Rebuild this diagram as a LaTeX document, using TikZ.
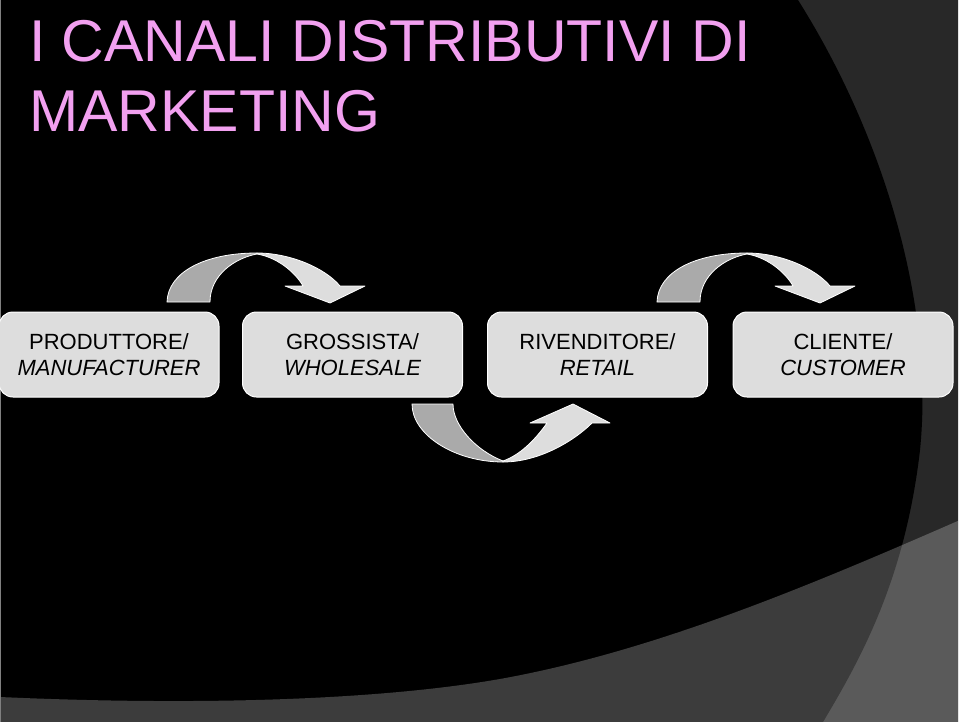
\documentclass[tikz,border=0pt]{standalone}
\usepackage{fontspec}
\setmainfont{Liberation Sans}
\definecolor{titlepink}{RGB}{242,160,240}
\definecolor{darkbg}{RGB}{40,40,40}
\definecolor{boxfill}{RGB}{221,221,221}
\definecolor{arrowdark}{RGB}{170,170,170}
\definecolor{arrowlight}{RGB}{221,221,221}
\newcommand\TopArrow[1]{%
  \begin{scope}[xshift=#1pt]
    \filldraw[arrowpart, fill=arrowdark]
      (167,302) .. controls (168,272) and (205,253) .. (257,253)
      -- (257,254) .. controls (235,258) and (210,275) .. (210,302) -- cycle;
    \filldraw[arrowpart, fill=arrowlight]
      (257,253) .. controls (290,253) and (325,268) .. (340,286)
      -- (365,286) -- (330,303) -- (285,286) -- (303,286)
      .. controls (297,275) and (280,258) .. (257,254) -- cycle;
  \end{scope}}
\begin{document}
\begin{tikzpicture}[x=1pt,y=-1pt,
  arrowpart/.style={draw=white, line width=0.8pt, line join=round},
  stagebox/.style={draw=white, line width=1pt, fill=boxfill, rounded corners=14pt,
    minimum width=220pt, minimum height=85pt, align=center, inner sep=0pt,
    text=black, font=\fontsize{22}{26}\selectfont},
  titletext/.style={anchor=base west, inner sep=0pt, text=titlepink,
    font=\fontsize{59}{70}\selectfont}]
\useasboundingbox (0,0) rectangle (960,722);
% background
\fill[white] (0,0) rectangle (960,722);
\begin{scope}
  \clip (1,1) rectangle (958,722);
  \fill[darkbg] (0,0) rectangle (960,722);
  \fill[black] (0,0) -- (798,0) .. controls (880,130) and (935,300) .. (920,450)
    .. controls (905,580) and (860,660) .. (823,722) -- (0,722) -- cycle;
  \fill[white, opacity=0.235] (0,697) .. controls (200,706) and (380,700) .. (500,679)
    .. controls (650,652) and (800,590) .. (960,520) -- (960,722) -- (0,722) -- cycle;
\end{scope}
\draw[gray, line width=1pt] (0.5,0) -- (0.5,722);
% title
\node[titletext] (title1) at (29,62) {I CANALI DISTRIBUTIVI DI};
\node[titletext] (title2) at (29,132) {MARKETING};
% curved block arrows
\TopArrow{0}
\TopArrow{490}
\filldraw[arrowpart, fill=arrowdark]
  (412,404) .. controls (412,435) and (455,462) .. (503,462)
  -- (503,461) .. controls (475,450) and (453,425) .. (453,404) -- cycle;
\filldraw[arrowpart, fill=arrowlight]
  (503,462) .. controls (540,462) and (575,440) .. (592,423)
  -- (610,423) -- (573,404) -- (530,423) -- (547,423)
  .. controls (535,440) and (520,455) .. (503,461) -- cycle;
% boxes
\node[stagebox] (prod) at (109,354.5) {PRODUTTORE/\\\itshape MANUFACTURER};
\node[stagebox] (gross) at (352.5,354.5) {GROSSISTA/\\\itshape WHOLESALE};
\node[stagebox] (riv) at (597.5,354.5) {RIVENDITORE/\\\itshape RETAIL};
\node[stagebox] (cli) at (843,354.5) {CLIENTE/\\\itshape CUSTOMER};
\end{tikzpicture}
\end{document}
